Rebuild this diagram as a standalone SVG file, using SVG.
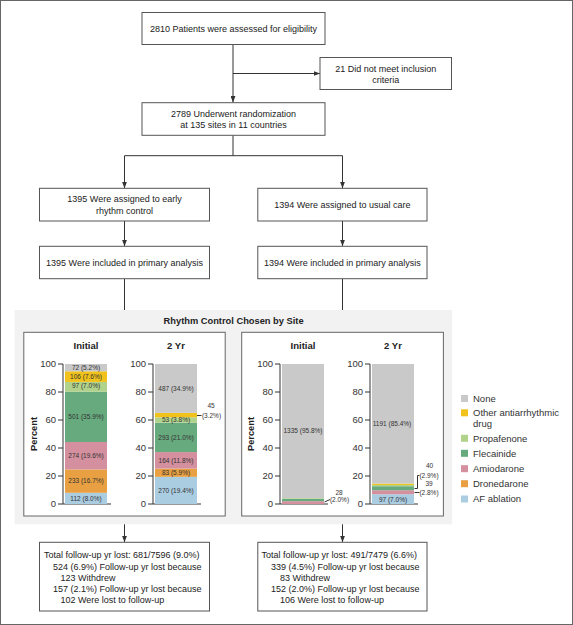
<svg xmlns="http://www.w3.org/2000/svg" width="573" height="625" viewBox="0 0 573 625">
<style>
text{font-family:"Liberation Sans",Arial,sans-serif;fill:#222}
.box{fill:#fff;stroke:#555;stroke-width:1}
.t{font-size:9px}
.c{text-anchor:middle}
.e{text-anchor:end}
.b{font-weight:bold}
.ttl{font-size:9.5px;font-weight:bold;text-anchor:middle}
.tick{font-size:9.5px;text-anchor:end;fill:#333}
.seg{font-size:6.5px;text-anchor:middle;fill:#333}
.leg{font-size:9.5px;fill:#333}
.ax{stroke:#333;stroke-width:1;fill:none}
.conn{stroke:#333;stroke-width:1;fill:none}
.none{fill:#c9c9c9}.oth{fill:#f0c21b}.prop{fill:#b1d28a}.flec{fill:#67aa7e}.amio{fill:#d4909e}.dron{fill:#e9a042}.afab{fill:#abcde2}
</style>
<defs>
<marker id="ah" viewBox="0 0 8 6" refX="8" refY="3" markerWidth="6.5" markerHeight="5" markerUnits="userSpaceOnUse" orient="auto"><path d="M0,0 L8,3 L0,6 z" fill="#333"/></marker>
<g id="yaxis">
<line class="ax" x1="-2" y1="364" x2="-2" y2="504"/>
<line class="ax" x1="-7" y1="364" x2="-2" y2="364"/>
<line class="ax" x1="-7" y1="392" x2="-2" y2="392"/>
<line class="ax" x1="-7" y1="420" x2="-2" y2="420"/>
<line class="ax" x1="-7" y1="448" x2="-2" y2="448"/>
<line class="ax" x1="-7" y1="476" x2="-2" y2="476"/>
<line class="ax" x1="-7" y1="504" x2="46" y2="504"/>
<text class="tick" x="-9" y="367.3">100</text>
<text class="tick" x="-9" y="395.3">80</text>
<text class="tick" x="-9" y="423.3">60</text>
<text class="tick" x="-9" y="451.3">40</text>
<text class="tick" x="-9" y="479.3">20</text>
<text class="tick" x="-9" y="507.3">0</text>
</g>
</defs>
<rect x="0.5" y="0.5" width="572" height="624" fill="#fff" stroke="#666" stroke-width="1"/>

<g id="connectors">
<line class="conn" x1="233" y1="44.5" x2="233" y2="102.5" marker-end="url(#ah)"/>
<line class="conn" x1="233" y1="73.5" x2="320" y2="73.5" marker-end="url(#ah)"/>
<polyline class="conn" points="233,135.5 233,155.7"/>
<line class="conn" x1="124.5" y1="155.7" x2="342.5" y2="155.7"/>
<line class="conn" x1="124.5" y1="155.7" x2="124.5" y2="188.3" marker-end="url(#ah)"/>
<line class="conn" x1="342.5" y1="155.7" x2="342.5" y2="188.3" marker-end="url(#ah)"/>
<line class="conn" x1="124.5" y1="221" x2="124.5" y2="246.3" marker-end="url(#ah)"/>
<line class="conn" x1="342.5" y1="221" x2="342.5" y2="246.3" marker-end="url(#ah)"/>
<line class="conn" x1="124.5" y1="278.7" x2="124.5" y2="332" marker-end="url(#ah)"/>
<line class="conn" x1="342.5" y1="278.7" x2="342.5" y2="332" marker-end="url(#ah)"/>
<line class="conn" x1="124.5" y1="516" x2="124.5" y2="542.3" marker-end="url(#ah)"/>
<line class="conn" x1="342.5" y1="516" x2="342.5" y2="542.3" marker-end="url(#ah)"/>
</g>

<g id="n-assessed">
<rect class="box" x="142" y="12.5" width="183" height="32"/>
<text class="t c" x="233.5" y="31.5">2810 Patients were assessed for eligibility</text>
</g>
<g id="n-excluded">
<rect class="box" x="320" y="57.5" width="131.5" height="32"/>
<text class="t c" x="385.7" y="71.5">21 Did not meet inclusion</text>
<text class="t c" x="385.7" y="82.5">criteria</text>
</g>
<g id="n-randomized">
<rect class="box" x="142" y="102.7" width="183" height="32.6"/>
<text class="t c" x="233.5" y="116.5">2789 Underwent randomization</text>
<text class="t c" x="233.5" y="128.2">at 135 sites in 11 countries</text>
</g>
<g id="n-early">
<rect class="box" x="39.5" y="188.3" width="170" height="32.7"/>
<text class="t c" x="124.5" y="202.2">1395 Were assigned to early</text>
<text class="t c" x="124.5" y="213.5">rhythm control</text>
</g>
<g id="n-usual">
<rect class="box" x="257.8" y="188.3" width="169.2" height="32.7"/>
<text class="t c" x="342.4" y="207.5">1394 Were assigned to usual care</text>
</g>
<g id="n-early-primary">
<rect class="box" x="39.5" y="246.3" width="170" height="32.4"/>
<text class="t c" x="124.5" y="265.9">1395 Were included in primary analysis</text>
</g>
<g id="n-usual-primary">
<rect class="box" x="257.8" y="246.3" width="169.2" height="32.4"/>
<text class="t c" x="342.4" y="265.9">1394 Were included in primary analysis</text>
</g>

<g id="panel">
<rect x="14.6" y="310" width="437.6" height="214.3" fill="#f2f2f2"/>
<text class="b c" x="233.6" y="324.3" style="font-size:9.3px">Rhythm Control Chosen by Site</text>
</g>

<g id="n-early-chart">
<rect x="23.8" y="332.3" width="201.4" height="183.7" fill="#fff" stroke="#666" stroke-width="1"/>
<text class="b c" transform="translate(36.5,434) rotate(-90)" style="font-size:9.3px">Percent</text>
<text class="ttl" x="86" y="348.5">Initial</text>
<text class="ttl" x="176" y="348.5">2 Yr</text>
<use href="#yaxis" x="65"/>
<rect class="afab" x="65" y="492.8" width="42" height="11.2"/>
<rect class="dron" x="65" y="469.42" width="42" height="23.38"/>
<rect class="amio" x="65" y="441.98" width="42" height="27.44"/>
<rect class="flec" x="65" y="391.72" width="42" height="50.26"/>
<rect class="prop" x="65" y="381.92" width="42" height="9.8"/>
<rect class="oth" x="65" y="371.28" width="42" height="10.64"/>
<rect class="none" x="65" y="364" width="42" height="7.28"/>
<text class="seg" x="86" y="369.9">72 (5.2%)</text>
<text class="seg" x="86" y="378.6">106 (7.6%)</text>
<text class="seg" x="86" y="388">97 (7.0%)</text>
<text class="seg" x="86" y="419.1">501 (35.9%)</text>
<text class="seg" x="86" y="458">274 (19.6%)</text>
<text class="seg" x="86" y="483.4">233 (16.7%)</text>
<text class="seg" x="86" y="500.7">112 (8.0%)</text>
<use href="#yaxis" x="155"/>
<rect class="afab" x="155" y="476.84" width="42" height="27.16"/>
<rect class="dron" x="155" y="468.58" width="42" height="8.26"/>
<rect class="amio" x="155" y="452.06" width="42" height="16.52"/>
<rect class="flec" x="155" y="422.66" width="42" height="29.4"/>
<rect class="prop" x="155" y="417.34" width="42" height="5.32"/>
<rect class="oth" x="155" y="412.86" width="42" height="4.48"/>
<rect class="none" x="155" y="364" width="42" height="48.86"/>
<text class="seg" x="176" y="391">487 (34.9%)</text>
<text class="seg" x="176" y="422.3">53 (3.8%)</text>
<text class="seg" x="176" y="439.7">293 (21.0%)</text>
<text class="seg" x="176" y="462.6">164 (11.8%)</text>
<text class="seg" x="176" y="475">83 (5.9%)</text>
<text class="seg" x="176" y="492.9">270 (19.4%)</text>
<line class="ax" x1="197" y1="415.5" x2="201.5" y2="415.5" stroke-width="0.8"/>
<text class="seg" x="211" y="408">45</text>
<text class="seg" x="211.5" y="418.3">(3.2%)</text>
</g>

<g id="n-usual-chart">
<rect x="241.7" y="332.3" width="201.7" height="183.7" fill="#fff" stroke="#666" stroke-width="1"/>
<text class="b c" transform="translate(254.2,434) rotate(-90)" style="font-size:9.3px">Percent</text>
<text class="ttl" x="303" y="348.5">Initial</text>
<text class="ttl" x="393" y="348.5">2 Yr</text>
<use href="#yaxis" x="282"/>
<rect class="amio" x="282" y="501.2" width="42" height="2.8"/>
<rect class="flec" x="282" y="498.82" width="42" height="2.38"/>
<rect class="prop" x="282" y="498.12" width="42" height="0.7"/>
<rect class="none" x="282" y="364" width="42" height="134.12"/>
<text class="seg" x="303" y="432.6">1335 (95.8%)</text>
<line class="ax" x1="324.5" y1="502" x2="330" y2="499.5" stroke-width="0.8"/>
<text class="seg" x="339" y="494.8">28</text>
<text class="seg" x="339.5" y="501.8">(2.0%)</text>
<use href="#yaxis" x="372"/>
<rect class="afab" x="372" y="494.2" width="42" height="9.8"/>
<rect class="amio" x="372" y="490.28" width="42" height="3.92"/>
<rect class="flec" x="372" y="486.22" width="42" height="4.06"/>
<rect class="prop" x="372" y="484.96" width="42" height="1.26"/>
<rect class="oth" x="372" y="483.56" width="42" height="1.4"/>
<rect class="none" x="372" y="364" width="42" height="119.56"/>
<text class="seg" x="392" y="426.2">1191 (85.4%)</text>
<text class="seg" x="393" y="501.5">97 (7.0%)</text>
<polyline class="ax" stroke-width="0.8" points="414.5,488.5 417.5,488.5 417.5,475.5 419.5,475.5"/>
<line class="ax" x1="414.5" y1="492.5" x2="419.5" y2="492.5" stroke-width="0.8"/>
<text class="seg" x="429.5" y="468">40</text>
<text class="seg" x="429" y="477.6">(2.9%)</text>
<text class="seg" x="429" y="485.6">39</text>
<text class="seg" x="429" y="494.5">(2.8%)</text>
</g>

<g id="legend">
<rect class="none" x="461" y="395" width="7" height="7"/>
<text class="leg" x="473" y="401.6">None</text>
<rect class="oth" x="461" y="409.3" width="7" height="7"/>
<text class="leg" x="473" y="416">Other antiarrhythmic</text>
<text class="leg" x="473" y="427.3">drug</text>
<rect class="prop" x="461" y="434.8" width="7" height="7"/>
<text class="leg" x="473" y="441.6">Propafenone</text>
<rect class="flec" x="461" y="449.8" width="7" height="7"/>
<text class="leg" x="473" y="456.6">Flecainide</text>
<rect class="amio" x="461" y="465.2" width="7" height="7"/>
<text class="leg" x="473" y="472">Amiodarone</text>
<rect class="dron" x="461" y="480.2" width="7" height="7"/>
<text class="leg" x="473" y="487">Dronedarone</text>
<rect class="afab" x="461" y="495.5" width="7" height="7"/>
<text class="leg" x="473" y="502.3">AF ablation</text>
</g>

<g id="n-early-loss">
<rect class="box" x="39.5" y="542.3" width="170" height="68.7"/>
<text class="t" x="43.9" y="558.2">Total follow-up yr lost: 681/7596 (9.0%)</text>
<text class="t" x="53" y="569.5">524 (6.9%) Follow-up yr lost because</text>
<text class="t" x="60.4" y="580.9">123 Withdrew</text>
<text class="t" x="53" y="592.2">157 (2.1%) Follow-up yr lost because</text>
<text class="t" x="60.4" y="603.3">102 Were lost to follow-up</text>
</g>
<g id="n-usual-loss">
<rect class="box" x="257.8" y="542.3" width="169.2" height="68.7"/>
<text class="t" x="261.4" y="558.2">Total follow-up yr lost: 491/7479 (6.6%)</text>
<text class="t" x="271" y="569.5">339 (4.5%) Follow-up yr lost because</text>
<text class="t" x="280" y="580.9">83 Withdrew</text>
<text class="t" x="271" y="592.2">152 (2.0%) Follow-up yr lost because</text>
<text class="t" x="280" y="603.3">106 Were lost to follow-up</text>
</g>
</svg>
